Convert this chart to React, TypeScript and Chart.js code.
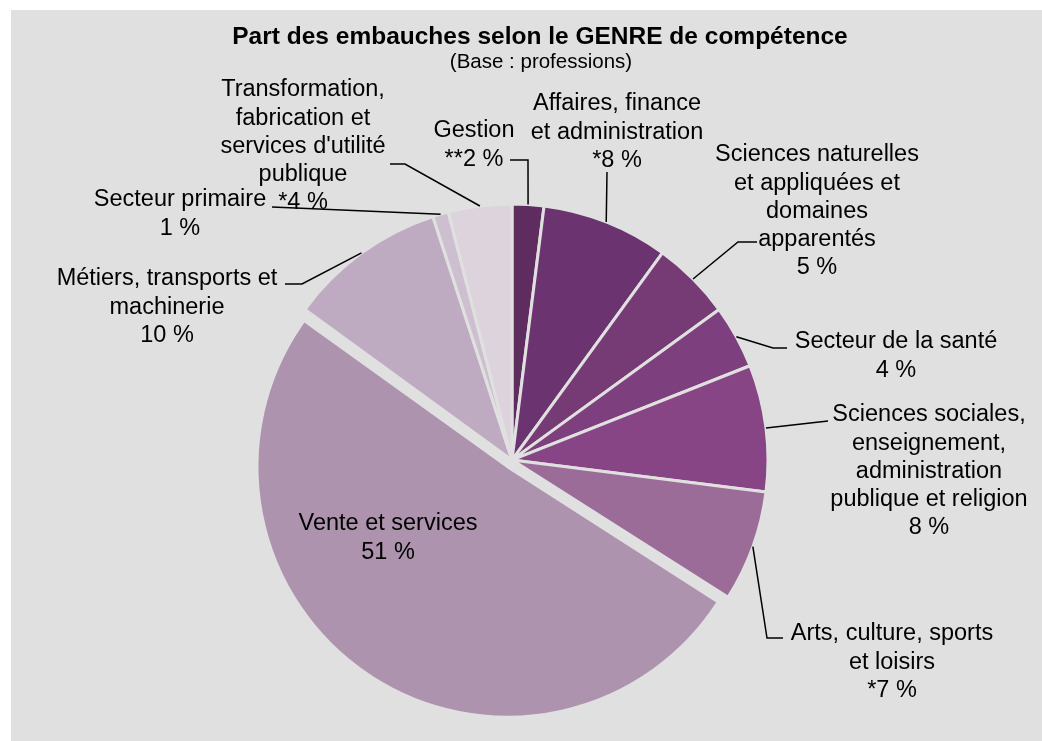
import React, { useEffect, useRef } from "react";
import { Chart, registerables } from "chart.js";

Chart.register(...registerables);

// ---------- data ----------
const chartTitle = "Part des embauches selon le GENRE de compétence";
const chartSubtitle = "(Base : professions)";

const categories = [
  "Gestion",
  "Affaires, finance et administration",
  "Sciences naturelles et appliquées et domaines apparentés",
  "Secteur de la santé",
  "Sciences sociales, enseignement, administration publique et religion",
  "Arts, culture, sports et loisirs",
  "Vente et services",
  "Métiers, transports et machinerie",
  "Secteur primaire",
  "Transformation, fabrication et services d'utilité publique",
];

const categoryLines = [
  ["Gestion"],
  ["Affaires, finance", "et administration"],
  ["Sciences naturelles", "et appliquées et", "domaines", "apparentés"],
  ["Secteur de la santé"],
  ["Sciences sociales,", "enseignement,", "administration", "publique et religion"],
  ["Arts, culture, sports", "et loisirs"],
  ["Vente et services"],
  ["Métiers, transports et", "machinerie"],
  ["Secteur primaire"],
  ["Transformation,", "fabrication et", "services d'utilité", "publique"],
];

const shares = [2, 8, 5, 4, 8, 7, 51, 10, 1, 4];

const valueLabels = ["**2 %", "*8 %", "5 %", "4 %", "8 %", "*7 %", "51 %", "10 %", "1 %", "*4 %"];

const sliceColors = [
  "#5e2c5e",
  "#6b3370",
  "#763a75",
  "#7d3f7d",
  "#874585",
  "#9a6c97",
  "#ad93ad",
  "#bfabc1",
  "#cdbfcf",
  "#ddd3dc",
];

const explodedIndex = 6;

// ---------- styling / layout (not data) ----------
const BG = "#e0e0e0";
const FONT = '"Liberation Sans", Arial, Helvetica, sans-serif';
const LABEL_SIZE = 23.5;
const LINE_H = 28.2;
const PIE_RADIUS = 256;
const EXPLODED_RADIUS = 242.5;
const EXPLODE_OFFSET = 32; // chart.js translates by offset/4
const TINY_WEIGHT = 0.001;

// label placement in canvas pixels: text center x, first line y, leader waypoints (ending at the slice)
const labelLayout: { x: number; y: number; leader: number[][] }[] = [
  { x: 463, y: 121, leader: [[499, 150], [517, 150]] },
  { x: 606, y: 94, leader: [[596, 162]] },
  { x: 806, y: 145, leader: [[746, 232], [727, 232]] },
  { x: 885, y: 332, leader: [[776, 338], [762, 338]] },
  { x: 918, y: 405, leader: [[817, 411]] },
  { x: 881, y: 624, leader: [[772, 628], [756, 628]] },
  { x: 377, y: 514, leader: [] },
  { x: 156, y: 269, leader: [[274, 274], [291, 274]] },
  { x: 169, y: 190, leader: [[261, 197]] },
  { x: 292, y: 80, leader: [[379, 154], [394, 154]] },
];

const labelPlugin = {
  id: "pieLabels",
  afterDatasetsDraw(chart: any) {
    const ctx = chart.ctx as CanvasRenderingContext2D;
    ctx.save();
    ctx.fillStyle = "#000";
    ctx.textAlign = "center";
    ctx.textBaseline = "middle";
    ctx.font = `bold 24.5px ${FONT}`;
    ctx.fillText(chartTitle, 529, 27);
    ctx.font = `20.5px ${FONT}`;
    ctx.fillText(chartSubtitle, 530, 52);

    categories.forEach((_, i) => {
      const lay = labelLayout[i];
      const meta = chart.getDatasetMeta(i === explodedIndex ? 1 : 0);
      const arc = meta.data[i];
      if (!arc) return;
      const p = arc.getProps(["x", "y", "startAngle", "endAngle", "outerRadius"], true);
      const mid = (p.startAngle + p.endAngle) / 2;
      if (lay.leader.length) {
        const ax = p.x + Math.cos(mid) * p.outerRadius;
        const ay = p.y + Math.sin(mid) * p.outerRadius;
        ctx.beginPath();
        ctx.strokeStyle = "#000";
        ctx.lineWidth = 1.5;
        ctx.moveTo(lay.leader[0][0], lay.leader[0][1]);
        for (let k = 1; k < lay.leader.length; k++) ctx.lineTo(lay.leader[k][0], lay.leader[k][1]);
        ctx.lineTo(ax, ay);
        ctx.stroke();
      }
      const lines = [...categoryLines[i], valueLabels[i]];
      ctx.font = `${LABEL_SIZE}px ${FONT}`;
      ctx.fillStyle = "#000";
      lines.forEach((t, k) => ctx.fillText(t, lay.x, lay.y + k * LINE_H));
    });
    ctx.restore();
  },
};

export default function App() {
  const ref = useRef<HTMLCanvasElement>(null);
  useEffect(() => {
    if (!ref.current) return;
    const transparent = "rgba(0,0,0,0)";
    const chart = new Chart(ref.current, {
      type: "pie",
      data: {
        labels: categories,
        datasets: [
          {
            data: shares,
            backgroundColor: sliceColors.map((c, i) => (i === explodedIndex ? transparent : c)),
            borderColor: BG,
            borderWidth: shares.map((_, i) => (i === explodedIndex ? 0 : 3)),
            weight: 1,
            radius: PIE_RADIUS,
          } as any,
          {
            data: shares,
            backgroundColor: sliceColors.map((c, i) => (i === explodedIndex ? c : transparent)),
            borderColor: BG,
            borderWidth: shares.map((_, i) => (i === explodedIndex ? 3 : 0)),
            offset: shares.map((_, i) => (i === explodedIndex ? EXPLODE_OFFSET : 0)),
            weight: TINY_WEIGHT,
            radius: (EXPLODED_RADIUS * (1 + TINY_WEIGHT)) / TINY_WEIGHT,
          } as any,
        ],
      },
      options: {
        animation: false,
        responsive: true,
        maintainAspectRatio: false,
        events: [],
        layout: { padding: { left: 0, right: 29, top: 169, bottom: 0 } },
        plugins: {
          legend: { display: false },
          tooltip: { enabled: false },
          title: { display: false },
        },
      },
      plugins: [labelPlugin],
    });
    return () => chart.destroy();
  }, []);

  return (
    <div
      style={{
        position: "absolute",
        left: 11,
        top: 10,
        width: 1031,
        height: 731,
        background: BG,
      }}
    >
      <canvas ref={ref} />
    </div>
  );
}
